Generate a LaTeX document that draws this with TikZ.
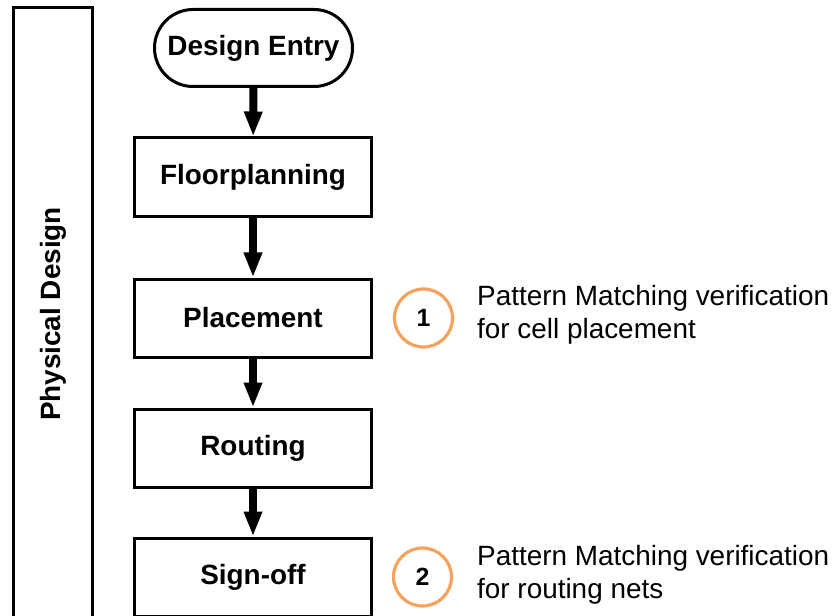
\documentclass[tikz,border=0pt]{standalone}
\usepackage{fontspec}
\setmainfont{Liberation Sans}
\usetikzlibrary{positioning,shapes.misc,arrows.meta}
\definecolor{stepring}{RGB}{244,162,92}

\tikzset{
  stepbox/.style={draw, line width=3bp, minimum width=237bp, minimum height=78bp, inner sep=0pt,
    font=\bfseries\fontsize{28}{33}\selectfont},
  flow/.style={-{Triangle[width=17bp,length=25bp]}, line width=8bp},
  ring/.style={draw=stepring, line width=3.2bp, circle, minimum size=58bp, inner sep=0pt,
    font=\bfseries\fontsize{25}{30}\selectfont},
  remark/.style={anchor=base west, align=left, inner sep=0pt, font=\fontsize{28}{33}\selectfont}
}

\begin{document}
\begin{tikzpicture}[x=1bp, y=-1bp]
    \clip (0,0) rectangle (833,616);
    \node[draw, line width=3bp, minimum width=612bp, minimum height=78bp, rotate=90,
      font=\bfseries\fontsize{28}{33}\selectfont] at (53,314) (physical) {Physical Design};
    \node[stepbox, rounded rectangle, minimum width=198bp, minimum height=77bp] at (253.5,48) (entry) {Design Entry};
    \node[stepbox] at (253,177) (floor) {Floorplanning};
    \node[stepbox] at (253,318) (place) {Placement};
    \node[stepbox] at (253,448) (route) {Routing};
    \node[stepbox] at (253,577) (signoff) {Sign-off};
    \draw [flow] (entry) -- (floor);
    \draw [flow] (floor) -- (place);
    \draw [flow] (place) -- (route);
    \draw [flow] (route) -- (signoff);
    \node[ring] at (423.5,318) (one) {1};
    \node[ring] at (422.5,577) (two) {2};
    \node[remark] at (477,338) (check1) {Pattern Matching verification\\for cell placement};
    \node[remark] at (477,598) (check2) {Pattern Matching verification\\for routing nets};
\end{tikzpicture}
\end{document}
